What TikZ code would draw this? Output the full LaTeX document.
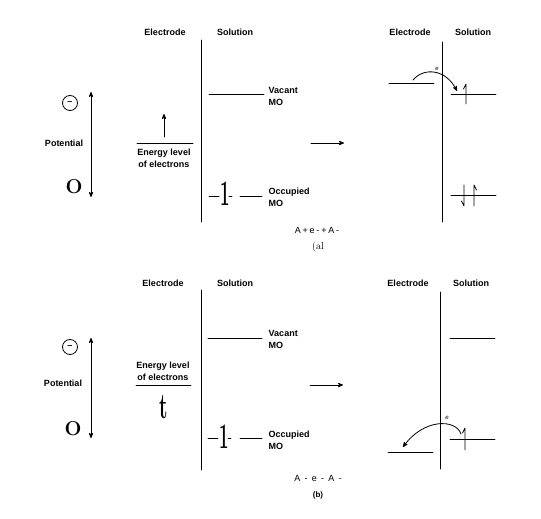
\documentclass[tikz,border=0pt]{standalone}
\usepackage{fontspec}
\newfontfamily\labelfont{Liberation Sans}
\usetikzlibrary{arrows}
\usetikzlibrary{positioning}

\tikzset{
  lbl/.style={font=\labelfont\bfseries\fontsize{9}{12}\selectfont},
  rxn/.style={font=\labelfont\addfontfeature{LetterSpace=20}\fontsize{9}{11}\selectfont},
  neg/.style={draw,circle,minimum size=15pt,inner sep=0pt,font=\labelfont\bfseries\fontsize{9}{9}\selectfont},
  zero/.style={font=\bfseries\fontsize{20}{20}\selectfont},
  tall/.style={font=\bfseries\fontsize{24}{24}\selectfont,inner sep=0pt},
  elec/.style={font=\labelfont\itshape\fontsize{6}{6}\selectfont,inner sep=1pt},
  level/.style={line width=0.8pt},
  wall/.style={line width=0.9pt}
}

\begin{document}
\begin{tikzpicture}[line cap=round,line join=round,>=stealth',x=1pt,y=-1pt,line width=0.8pt]
\useasboundingbox (0,0) rectangle (541,519);
% ---------- (a) ----------
\node[lbl] (elecA) at (165,32) {Electrode};
\node[lbl] (solA) at (235,32) {Solution};
\coordinate (wallAt) at (201,40);
\coordinate (wallAb) at (201,222);
\draw[wall] (wallAt) -- (wallAb);
\draw[level] (209,94) -- (264,94);
\node[lbl,anchor=west,align=left] (vacA) at (265,96) {Vacant\\MO};
\draw[level] (209,196) -- (219,196);
\node[tall] (oneA) at (225,194) {\scalebox{0.7}[1.5]{1}};
\draw[level] (229,196) -- (232,196);
\draw[level] (240,196) -- (262,196);
\node[lbl,anchor=west,align=left] (occA) at (265,197) {Occupied\\MO};
\node[neg] (negA) at (70,103) {–};
\node[zero] (zeroA) at (74,187) {O};
\node[lbl] (potA) at (64,143) {Potential};
\coordinate (potAt) at (91,92);
\coordinate (potAb) at (91,197);
\draw[<->] (potAt) -- (potAb);
\draw[level] (137,143) -- (193,143);
\node[lbl,align=center] (enA) at (164,158) {Energy level\\of electrons};
\coordinate (upAb) at (164,137);
\coordinate (upAt) at (164,114);
\draw[->] (upAb) -- (upAt);
\coordinate (goAl) at (311,143);
\coordinate (goAr) at (344,143);
\draw[->] (goAl) -- (goAr);
\node[lbl] (elecA2) at (410,32) {Electrode};
\node[lbl] (solA2) at (473,32) {Solution};
\coordinate (wallA2t) at (442,42);
\coordinate (wallA2b) at (442,222);
\draw[wall] (wallA2t) -- (wallA2b);
\draw[level] (389,83) -- (434,83);
\draw[level] (451,94) -- (496,94);
\draw[level] (451,195) -- (496,195);
% spins
\draw (466,104) -- (466,84) -- (463.5,89);
\draw (464,185) -- (464,206) -- (461.5,201);
\draw (474,206) -- (474,185) -- (476.5,190);
\coordinate (jumpAs) at (413,80);
\coordinate (jumpAe) at (457,91);
\draw[->] (jumpAs) .. controls (424,67) and (446,69) .. (jumpAe);
\node[elec] (eA) at (437,69) {e};
\node[rxn] (rxnA) at (317,230) {A+e-+A-};
\node[font=\fontsize{10}{12}\selectfont] (capA) at (318,247) {(al};
% ---------- (b) ----------
\node[lbl] (elecB) at (163,283) {Electrode};
\node[lbl] (solB) at (235,283) {Solution};
\coordinate (wallBt) at (201,290);
\coordinate (wallBb) at (201,470);
\draw[wall] (wallBt) -- (wallBb);
\draw[level] (208,338) -- (262,338);
\node[lbl,anchor=west,align=left] (vacB) at (265,339) {Vacant\\MO};
\draw[level] (208,438) -- (218,438);
\node[tall] (oneB) at (224,437) {\scalebox{0.7}[1.5]{1}};
\draw[level] (228,438) -- (231,438);
\draw[level] (240,438) -- (262,438);
\node[lbl,anchor=west,align=left] (occB) at (265,440) {Occupied\\MO};
\node[neg] (negB) at (70,347) {–};
\node[zero] (zeroB) at (73,429) {O};
\node[lbl] (potB) at (63,383) {Potential};
\coordinate (potBt) at (91,338);
\coordinate (potBb) at (91,438);
\draw[<->] (potBt) -- (potBb);
\node[lbl,align=center] (enB) at (163,371) {Energy level\\of electrons};
\draw[level] (136,385) -- (191,385);
\node[tall] (tB) at (164,407) {\scalebox{0.8}[1.5]{t}};
\coordinate (goBl) at (310,385);
\coordinate (goBr) at (343,385);
\draw[->] (goBl) -- (goBr);
\node[lbl] (elecB2) at (408,283) {Electrode};
\node[lbl] (solB2) at (471,283) {Solution};
\coordinate (wallB2t) at (440,292);
\coordinate (wallB2b) at (440,469);
\draw[wall] (wallB2t) -- (wallB2b);
\draw[level] (450,338) -- (495,338);
\draw[level] (450,439) -- (495,439);
\draw[level] (388,452) -- (433,452);
\draw (465,450) -- (465,428) -- (462.5,433);
\coordinate (jumpBs) at (461,434);
\coordinate (jumpBe) at (403,447);
\draw[->] (jumpBs) .. controls (456,419) and (424,418) .. (jumpBe);
\node[elec] (eB) at (447,418) {e};
\node[rxn] (rxnB) at (318,478) {A - e - A -};
\node[font=\labelfont\bfseries\fontsize{8}{10}\selectfont] (capB) at (318,495) {(b)};
\end{tikzpicture}
\end{document}
